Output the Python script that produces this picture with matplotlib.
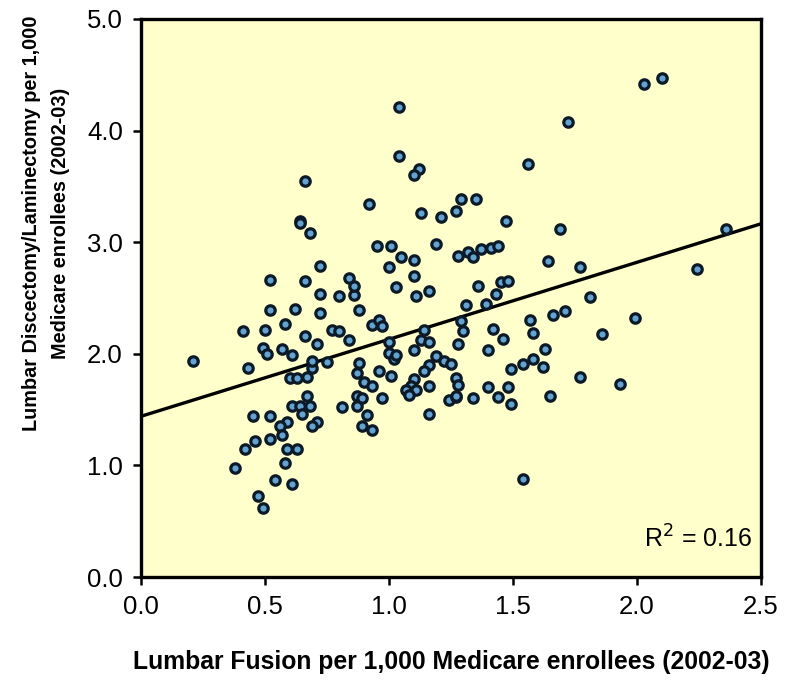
import numpy as np
import matplotlib
matplotlib.use("Agg")
from matplotlib import pyplot as plt

# Lumbar fusion rate per 1,000 (x) vs discectomy/laminectomy rate per 1,000 (y)
fusion = [
    0.21, 0.41, 0.43, 0.50, 0.52, 0.62, 0.58, 0.49, 0.51, 0.57,
    0.61, 0.66, 0.71, 0.72, 0.72, 0.80, 0.86, 0.86, 0.88, 0.77,
    0.80, 0.84, 0.93, 0.96, 0.97, 1.00, 1.00, 1.02, 1.03, 0.69,
    0.69, 0.75, 0.60, 0.63, 0.67, 0.67, 0.61, 0.64, 0.68, 0.65,
    0.59, 0.56, 0.57, 0.52, 0.71, 0.69, 0.45, 0.52, 0.46, 0.42,
    0.59, 0.63, 0.58, 0.38, 0.54, 0.61, 0.47, 0.49, 0.81, 0.87,
    0.89, 0.87, 0.91, 0.89, 0.93, 0.88, 0.87, 0.90, 0.93, 0.96,
    1.01, 0.97, 1.10, 1.14, 1.13, 1.16, 1.16, 1.14, 1.10, 1.09,
    1.07, 1.11, 1.16, 1.08, 1.16, 1.19, 1.22, 1.25, 1.24, 1.27,
    1.04, 1.04, 1.12, 1.10, 0.66, 0.92, 0.64, 0.64, 0.68, 1.13,
    1.21, 1.29, 1.35, 1.27, 0.95, 1.01, 1.19, 1.05, 1.10, 1.00,
    1.10, 0.72, 0.52, 0.66, 0.84, 1.03, 1.16, 1.11, 1.47, 1.28,
    1.32, 1.34, 1.37, 1.41, 1.44, 1.36, 1.45, 1.48, 2.10, 2.03,
    1.72, 1.56, 1.69, 2.36, 1.64, 1.77, 2.24, 1.43, 1.81, 1.31,
    1.39, 1.29, 1.30, 1.28, 1.27, 1.28, 1.27, 1.34, 1.42, 1.46,
    1.40, 1.57, 1.58, 1.66, 1.71, 1.99, 1.86, 1.63, 1.54, 1.58,
    1.62, 1.49, 1.77, 1.93, 1.40, 1.48, 1.44, 1.49, 1.65, 1.54,
]
discectomy = [
    1.94, 2.20, 1.87, 2.21, 2.39, 2.40, 2.27, 2.05, 2.00, 2.04,
    1.99, 2.16, 2.09, 2.37, 2.54, 2.52, 2.53, 2.61, 2.39, 2.21,
    2.20, 2.12, 2.26, 2.30, 2.25, 2.11, 2.01, 1.95, 1.99, 1.87,
    1.94, 1.93, 1.78, 1.78, 1.79, 1.62, 1.53, 1.53, 1.53, 1.46,
    1.39, 1.35, 1.27, 1.24, 1.39, 1.35, 1.44, 1.44, 1.22, 1.15,
    1.15, 1.15, 1.02, 0.98, 0.87, 0.83, 0.73, 0.62, 1.52, 1.62,
    1.60, 1.53, 1.45, 1.35, 1.32, 1.92, 1.83, 1.75, 1.71, 1.85,
    1.80, 1.60, 2.03, 2.21, 2.12, 2.11, 1.90, 1.85, 1.77, 1.71,
    1.68, 1.68, 1.71, 1.63, 1.46, 1.98, 1.94, 1.91, 1.59, 1.61,
    4.21, 3.77, 3.66, 3.60, 3.55, 3.34, 3.19, 3.17, 3.08, 3.26,
    3.23, 3.39, 3.39, 3.28, 2.97, 2.97, 2.98, 2.87, 2.84, 2.78,
    2.70, 2.79, 2.66, 2.65, 2.68, 2.60, 2.56, 2.52, 3.19, 2.88,
    2.91, 2.87, 2.94, 2.95, 2.97, 2.61, 2.64, 2.65, 4.47, 4.42,
    4.08, 3.70, 3.12, 3.12, 2.83, 2.78, 2.76, 2.54, 2.51, 2.44,
    2.45, 2.29, 2.20, 2.09, 1.78, 1.72, 1.62, 1.60, 2.22, 2.13,
    2.03, 2.30, 2.19, 2.35, 2.38, 2.32, 2.18, 2.04, 1.91, 1.95,
    1.88, 1.86, 1.79, 1.73, 1.70, 1.70, 1.61, 1.55, 1.62, 0.88,
]

# fitted line as drawn in the figure
fit_intercept = 1.44
fit_slope = 0.69
r_squared = 0.16

x_ticks = [0.0, 0.5, 1.0, 1.5, 2.0, 2.5]
y_ticks = [0.0, 1.0, 2.0, 3.0, 4.0, 5.0]

plt.rcParams['font.family'] = ['Liberation Sans', 'DejaVu Sans']

fig = plt.figure(figsize=(7.89, 6.81), dpi=100)
ax = fig.add_axes([0.1787, 0.1527, 0.7858, 0.8194])
ax.set_facecolor('#FFFFCC')

ax.scatter(fusion, discectomy, s=46, facecolor='#62A3D2', edgecolor='#0B1A26',
           linewidth=2.3, zorder=3)

xl = np.array([0.0, 2.5])
ax.plot(xl, fit_intercept + fit_slope * xl, color='black', linewidth=2.4, zorder=2)

ax.set_xlim(0, 2.5)
ax.set_ylim(0, 5)
ax.set_xticks(x_ticks)
ax.set_yticks(y_ticks)
ax.set_xticklabels([f"{v:.1f}" for v in x_ticks])
ax.set_yticklabels([f"{v:.1f}" for v in y_ticks])
ax.tick_params(direction='out', length=6, width=1.8, labelsize=18.5, pad=7)

for sp in ax.spines.values():
    sp.set_linewidth(2.4)

ax.text(0.985, 0.068, f"R$^2$ = {r_squared:.2f}", transform=ax.transAxes,
        ha='right', va='center', fontsize=18)

ax.set_xlabel("Lumbar Fusion per 1,000 Medicare enrollees (2002-03)",
              fontsize=17.8, fontweight='bold', labelpad=22)
fig.text(0.058, 0.672, "Lumbar Discectomy/Laminectomy per 1,000\nMedicare enrollees (2002-03)",
         rotation=90, ha='center', va='center', fontsize=14.3, fontweight='bold',
         multialignment='center', linespacing=1.65)

fig.savefig("out.png", dpi=100)
